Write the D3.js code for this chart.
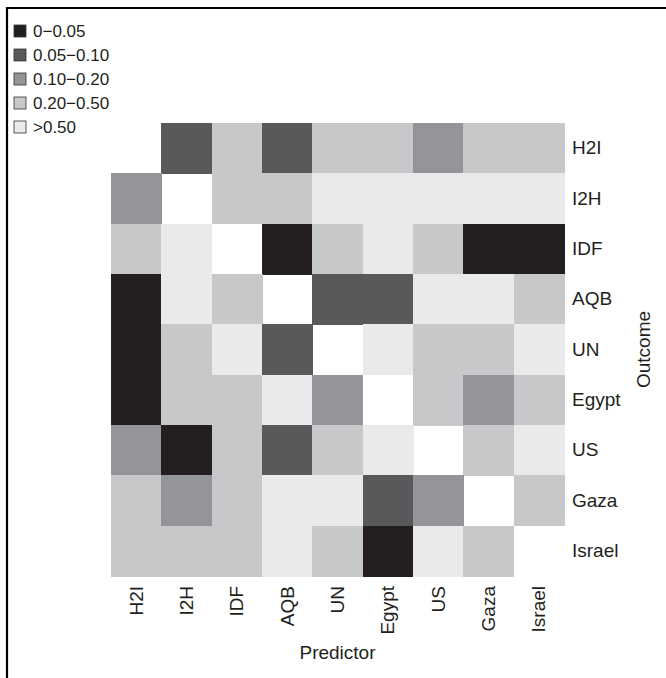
<!DOCTYPE html>
<html>
<head>
<meta charset="utf-8">
<script src="https://cdn.jsdelivr.net/npm/d3@7"></script>
<style>
  html, body { margin: 0; padding: 0; background: #fff; }
  svg { display: block; font-family: "Liberation Sans", Arial, sans-serif; }
</style>
</head>
<body>
<svg id="chart" width="666" height="678"></svg>
<script>
// Outcome (rows, top to bottom) and predictor (columns, left to right)
const outcomes = ["H2I", "I2H", "IDF", "AQB", "UN", "Egypt", "US", "Gaza", "Israel"];
const predictors = ["H2I", "I2H", "IDF", "AQB", "UN", "Egypt", "US", "Gaza", "Israel"];

// p-value bins
const binLabels = ["0\u22120.05", "0.05\u22120.10", "0.10\u22120.20", "0.20\u22120.50", ">0.50"];
const binColors = ["#231f20", "#58595b", "#939598", "#c7c8ca", "#eaeaec"];

// Bin index per cell (row = outcome, column = predictor); null = diagonal (blank)
const binMatrix = [
  [null, 1, 3, 1, 3, 3, 2, 3, 3],   // H2I
  [2, null, 3, 3, 4, 4, 4, 4, 4],   // I2H
  [3, 4, null, 0, 3, 4, 3, 0, 0],   // IDF
  [0, 4, 3, null, 1, 1, 4, 4, 3],   // AQB
  [0, 3, 4, 1, null, 4, 3, 3, 4],   // UN
  [0, 3, 3, 4, 2, null, 3, 2, 3],   // Egypt
  [2, 0, 3, 1, 3, 4, null, 3, 4],   // US
  [3, 2, 3, 4, 4, 1, 2, null, 3],   // Gaza
  [3, 3, 3, 4, 3, 0, 4, 3, null]    // Israel
];

const svg = d3.select("#chart");
const W = 666, H = 678;
const textColor = "#231f20";

// Figure frame (top and left rules)
svg.append("line").attr("x1", 6).attr("x2", W).attr("y1", 8).attr("y2", 8)
  .attr("stroke", "#000").attr("stroke-width", 2.2);
svg.append("line").attr("x1", 7).attr("x2", 7).attr("y1", 7).attr("y2", H)
  .attr("stroke", "#000").attr("stroke-width", 2.2);

const gridLeft = 111, gridTop = 123, gridSize = 453;

const x = d3.scaleBand().domain(predictors).range([gridLeft, gridLeft + gridSize]).padding(0);
const y = d3.scaleBand().domain(outcomes).range([gridTop, gridTop + gridSize]).padding(0);
const color = d3.scaleOrdinal().domain(d3.range(binLabels.length)).range(binColors);

const cells = [];
outcomes.forEach((o, i) => {
  predictors.forEach((p, j) => {
    const b = binMatrix[i][j];
    if (b !== null) cells.push({ outcome: o, predictor: p, bin: b });
  });
});

svg.append("g").selectAll("rect").data(cells).join("rect")
  .attr("x", d => x(d.predictor))
  .attr("y", d => y(d.outcome))
  .attr("width", x.bandwidth() + 0.5)
  .attr("height", y.bandwidth() + 0.5)
  .attr("fill", d => color(d.bin))
  .attr("shape-rendering", "crispEdges");

// Right axis (outcome labels)
const yAxis = d3.axisRight(y).tickSize(0).tickPadding(8);
const gy = svg.append("g").attr("transform", `translate(${gridLeft + gridSize},0)`).call(yAxis);
gy.select(".domain").remove();
gy.selectAll("text").attr("font-size", 19).attr("fill", textColor)
  .attr("font-family", "Liberation Sans, Arial, sans-serif");

// Bottom axis (predictor labels, rotated)
const xAxis = d3.axisBottom(x).tickSize(0).tickPadding(0);
const gx = svg.append("g").attr("transform", `translate(0,${gridTop + gridSize})`).call(xAxis);
gx.select(".domain").remove();
gx.selectAll("text")
  .attr("font-size", 19).attr("fill", textColor)
  .attr("font-family", "Liberation Sans, Arial, sans-serif")
  .attr("transform", "rotate(-90)")
  .attr("text-anchor", "end")
  .attr("x", -10)
  .attr("y", 0)
  .attr("dy", "0.35em");

// Axis titles
svg.append("text").attr("x", gridLeft + gridSize / 2).attr("y", 659)
  .attr("text-anchor", "middle").attr("font-size", 19).attr("fill", textColor)
  .text("Predictor");
svg.append("text")
  .attr("transform", `translate(650,${gridTop + gridSize / 2}) rotate(-90)`)
  .attr("text-anchor", "middle").attr("font-size", 19).attr("fill", textColor)
  .text("Outcome");

// Legend
const legend = svg.append("g").attr("transform", "translate(14,25)");
const lg = legend.selectAll("g").data(binLabels).join("g")
  .attr("transform", (d, i) => `translate(0,${i * 24})`);
lg.append("rect").attr("x", 0).attr("y", 0).attr("width", 12).attr("height", 12)
  .attr("fill", (d, i) => binColors[i]).attr("stroke", "#333").attr("stroke-width", 0.8);
lg.append("text").attr("x", 19).attr("y", 6).attr("dy", "0.35em")
  .attr("font-size", 17).attr("fill", textColor).text(d => d);
</script>
</body>
</html>
